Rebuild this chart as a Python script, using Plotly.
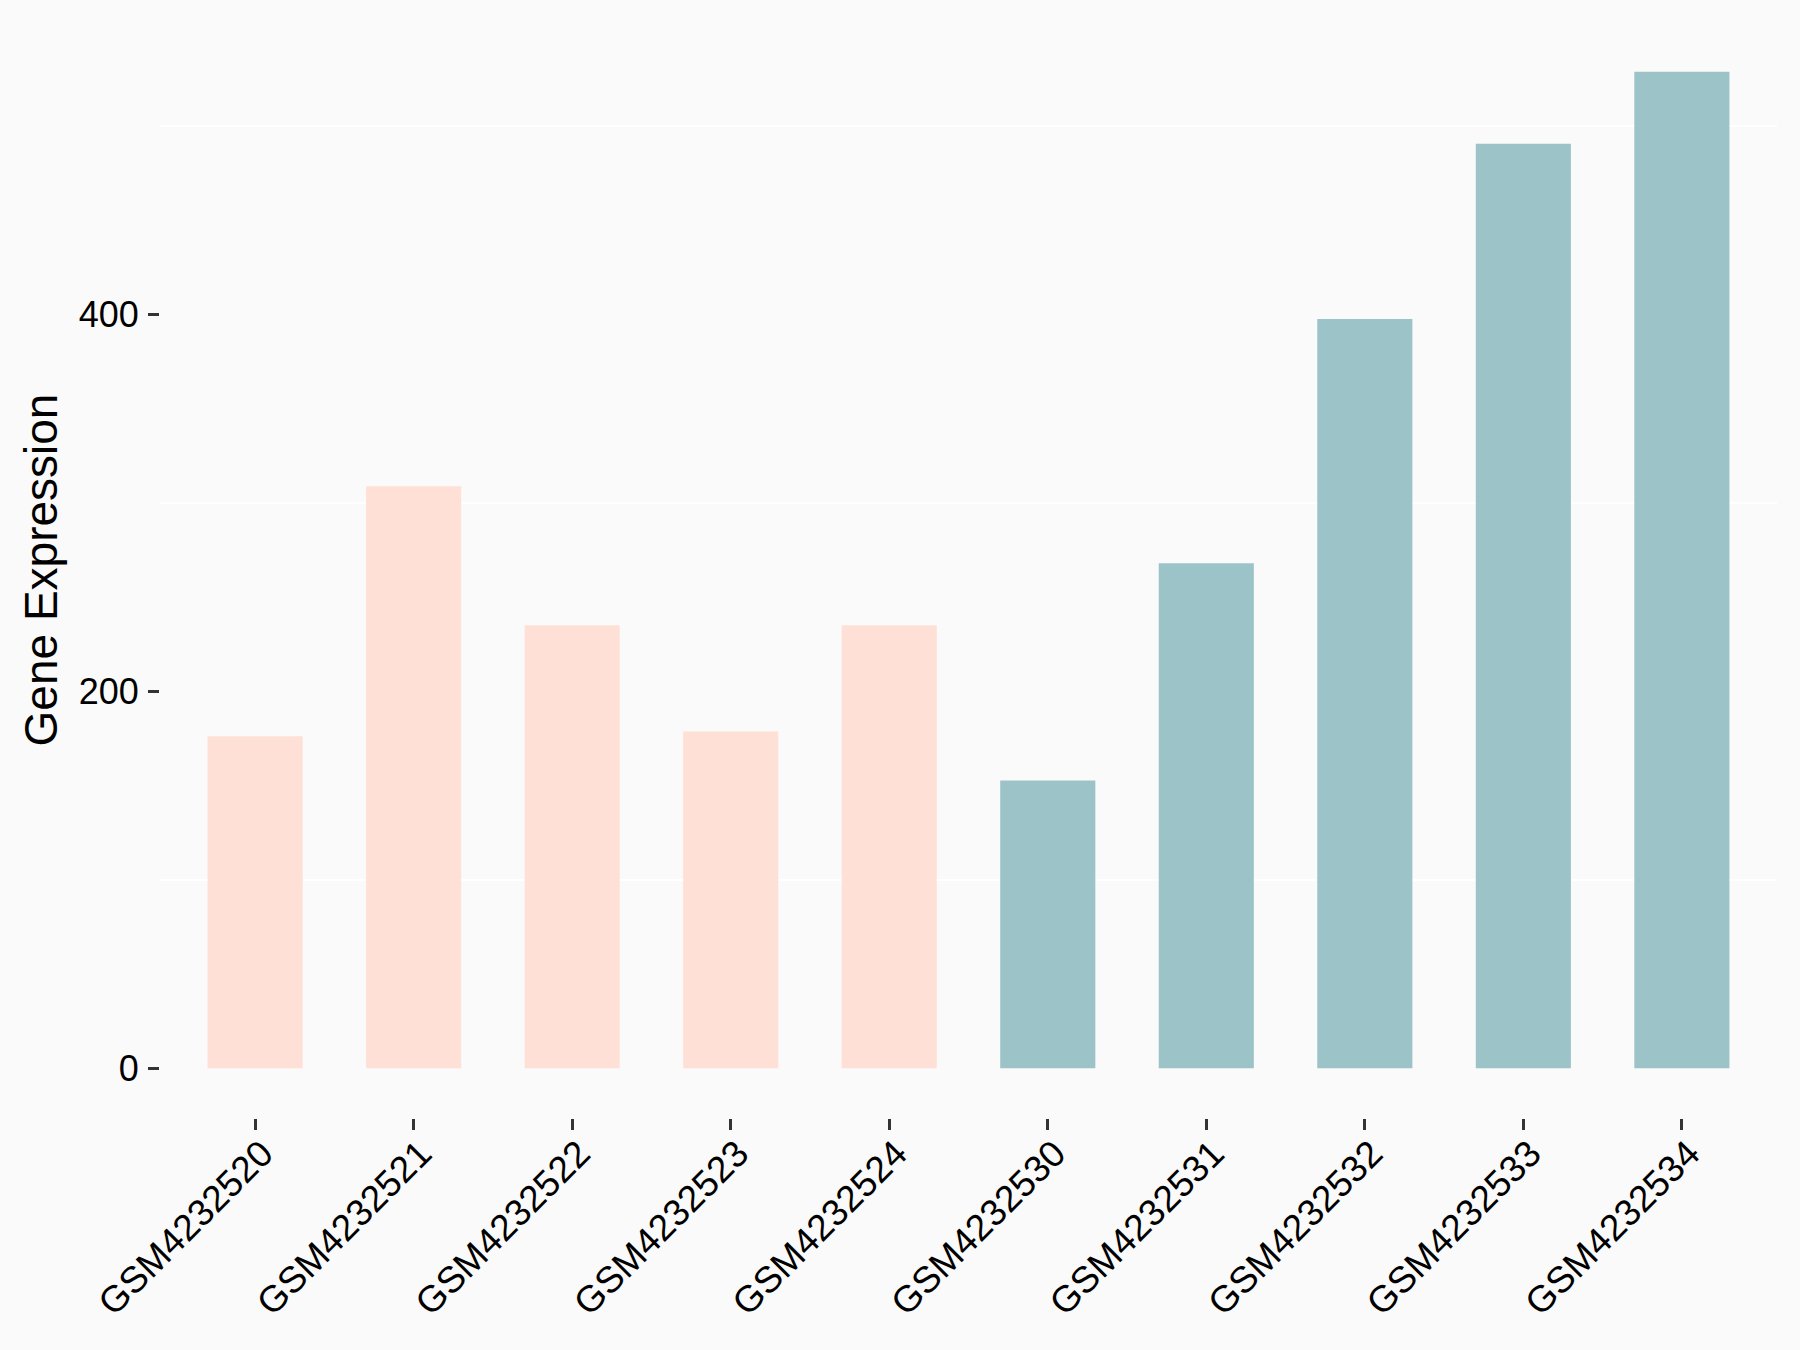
import plotly.graph_objects as go

samples = ["GSM4232520", "GSM4232521", "GSM4232522", "GSM4232523", "GSM4232524",
           "GSM4232530", "GSM4232531", "GSM4232532", "GSM4232533", "GSM4232534"]
groups = ["A", "A", "A", "A", "A", "B", "B", "B", "B", "B"]
expression = [176.0, 308.7, 234.9, 178.6, 234.9, 152.6, 267.8, 397.4, 490.3, 528.5]
y_tickvals = [0, 200, 400]
y_gridvals = [100, 300, 500]

group_colors = {"A": "#FFE0D6", "B": "#9CC4C8"}
colors = [group_colors[g] for g in groups]

ymax = max(expression)
pad = 0.05 * ymax

fig = go.Figure()
fig.add_trace(go.Bar(
    x=samples, y=expression, width=0.6,
    marker=dict(color=colors, line=dict(width=0)),
    showlegend=False,
))

font_family = "Liberation Sans, Arial, sans-serif"
fig.update_layout(
    width=1800, height=1350,
    margin=dict(l=160, r=23, t=22, b=232),
    paper_bgcolor="#FAFAFA", plot_bgcolor="#FAFAFA",
    font=dict(family=font_family, color="#000000"),
    bargap=0.4,
)
fig.update_xaxes(
    range=[-0.6, len(samples) - 0.4],
    showgrid=False, zeroline=False, showline=False,
    ticks="outside", ticklen=11, tickwidth=3, tickcolor="#333333",
    tickangle=-45, tickfont=dict(size=37, family=font_family, color="#000000"),
    ticklabelstandoff=-13, ticklabelshift=7,
)
fig.update_yaxes(
    range=[-pad, ymax + pad],
    tickvals=y_tickvals,
    showgrid=False, zeroline=False, showline=False,
    ticks="outside", ticklen=11, tickwidth=3, tickcolor="#333333",
    tickfont=dict(size=36, family=font_family, color="#000000"),
    ticklabelstandoff=2,
    minor=dict(tickvals=y_gridvals, showgrid=True, gridcolor="#FFFFFF", gridwidth=2, ticks=""),
    title=dict(text="Gene Expression", font=dict(size=46, family=font_family, color="#000000"), standoff=6),
)

fig.write_html("out.html", config={"displayModeBar": False},
               post_script="document.body.style.margin='0px';")
